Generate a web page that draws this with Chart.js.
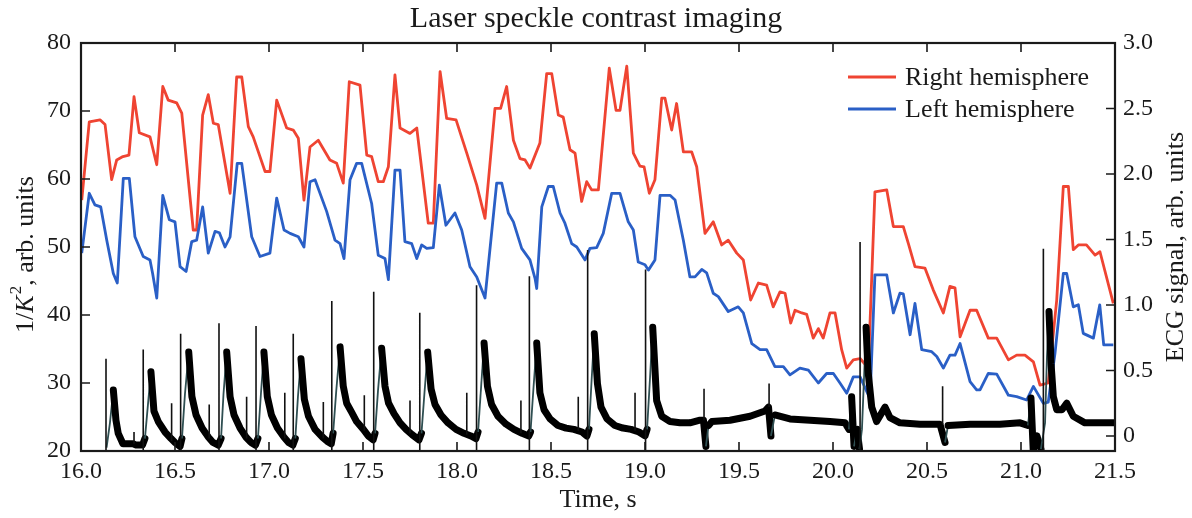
<!DOCTYPE html>
<html>
<head>
<meta charset="utf-8">
<script src="https://cdn.jsdelivr.net/npm/chart.js@4.4.1/dist/chart.umd.min.js"></script>
<style>
html,body{margin:0;padding:0;background:#fff;}
canvas{display:block;}
</style>
</head>
<body>
<canvas id="c" width="1192" height="518"></canvas>
<script>
// ---------------- DATA ----------------
const chartTitle = 'Laser speckle contrast imaging';
const xTitle = 'Time, s';
const yRightTitle = 'ECG signal, arb. units';
const xTicks = [16.0,16.5,17.0,17.5,18.0,18.5,19.0,19.5,20.0,20.5,21.0,21.5];
const yLeftTicks = [20,30,40,50,60,70,80];
const yRightTicks = [0,0.5,1.0,1.5,2.0,2.5,3.0];

const redTime = [16.004,16.044,16.101,16.128,16.163,16.190,16.223,16.255,16.282,16.310,
16.367,16.403,16.435,16.464,16.509,16.536,16.597,16.615,16.647,16.677,
16.704,16.730,16.793,16.828,16.855,16.890,16.916,16.979,17.005,17.041,
17.094,17.129,17.156,17.186,17.218,17.262,17.324,17.360,17.395,17.427,
17.484,17.520,17.546,17.581,17.608,17.635,17.670,17.697,17.750,17.786,
17.847,17.874,17.910,17.945,17.995,18.052,18.105,18.149,18.202,18.232,
18.264,18.300,18.335,18.362,18.388,18.441,18.477,18.504,18.539,18.565,
18.601,18.628,18.663,18.690,18.716,18.752,18.810,18.846,18.867,18.903,
18.938,18.973,18.995,19.023,19.053,19.089,19.106,19.142,19.168,19.204,
19.248,19.275,19.319,19.363,19.408,19.443,19.488,19.523,19.562,19.603,
19.647,19.682,19.718,19.745,19.775,19.798,19.834,19.860,19.895,19.922,
19.948,19.984,20.011,20.046,20.073,20.108,20.144,20.188,20.223,20.286,
20.321,20.374,20.401,20.436,20.489,20.533,20.587,20.622,20.649,20.676,
20.729,20.764,20.826,20.871,20.933,20.977,21.021,21.066,21.101,21.145,
21.190,21.225,21.252,21.278,21.305,21.348,21.394,21.420,21.491];
const redValue = [56.9,68.4,68.7,68.0,59.9,62.8,63.3,63.5,72.1,66.8,
66.2,62.1,73.6,71.6,71.2,69.7,52.5,52.5,69.4,72.4,
68.2,68.0,57.9,75.0,75.0,67.7,66.2,61.1,61.1,71.6,
67.5,67.2,66.0,56.9,64.7,65.7,62.8,62.3,59.4,74.3,
73.8,63.5,63.3,59.6,59.6,61.8,75.3,67.5,66.7,67.5,
53.5,53.5,75.8,68.9,68.7,63.8,59.1,54.2,70.4,70.4,
73.6,65.7,63.0,62.8,61.6,65.3,75.5,75.5,69.4,69.1,
64.3,63.8,56.7,59.6,58.4,58.4,76.3,70.1,70.1,76.6,
63.8,61.9,61.8,57.9,59.9,71.9,71.9,67.2,71.1,64.0,
64.0,61.8,52.0,53.7,50.3,51.0,49.1,48.1,42.2,44.7,
44.4,41.2,43.4,43.2,38.8,40.7,40.3,40.1,36.6,38.0,
36.6,40.3,40.3,34.9,32.2,33.4,33.6,32.2,58.1,58.4,
53.0,53.0,50.5,47.1,46.9,43.7,40.3,44.2,44.0,36.8,
40.7,40.7,36.6,36.6,33.4,34.1,34.1,33.1,29.7,30.0,
42.2,58.9,58.9,49.6,50.3,50.3,48.8,49.3,41.7];

const blueTime = [16.004,16.044,16.074,16.105,16.137,16.172,16.193,16.225,16.257,16.287,
16.331,16.367,16.381,16.403,16.435,16.470,16.500,16.527,16.559,16.589,
16.615,16.647,16.677,16.713,16.736,16.766,16.793,16.831,16.855,16.908,
16.952,17.005,17.041,17.080,17.112,17.156,17.186,17.218,17.245,17.307,
17.351,17.378,17.399,17.431,17.466,17.493,17.546,17.581,17.617,17.635,
17.670,17.697,17.723,17.759,17.786,17.812,17.839,17.874,17.906,17.941,
17.989,18.025,18.069,18.105,18.149,18.211,18.238,18.273,18.300,18.344,
18.388,18.415,18.424,18.451,18.486,18.512,18.548,18.574,18.610,18.637,
18.681,18.707,18.743,18.778,18.823,18.867,18.911,18.938,18.964,19.000,
19.018,19.053,19.080,19.133,19.160,19.204,19.239,19.266,19.302,19.328,
19.363,19.390,19.443,19.496,19.523,19.568,19.612,19.647,19.691,19.736,
19.771,19.824,19.869,19.922,19.966,20.002,20.037,20.073,20.108,20.144,
20.197,20.223,20.286,20.321,20.356,20.374,20.410,20.436,20.472,20.525,
20.552,20.587,20.622,20.649,20.676,20.729,20.764,20.782,20.826,20.871,
20.933,20.977,21.030,21.066,21.119,21.145,21.181,21.225,21.243,21.278,
21.305,21.331,21.385,21.419,21.440,21.491];
const blueValue = [49.1,57.9,56.2,55.9,51.0,46.1,44.7,60.1,60.1,51.5,
48.6,48.1,46.1,42.5,57.6,54.0,53.7,47.1,46.4,50.8,
51.0,55.9,49.1,52.3,52.1,50.0,51.5,62.3,62.3,51.5,
48.6,49.1,57.2,52.5,52.0,51.5,50.0,59.6,59.9,55.2,
51.0,50.5,48.3,59.9,62.3,62.3,56.4,48.8,48.3,45.2,
61.3,61.3,50.8,50.5,48.3,50.3,49.8,49.9,59.1,53.2,
55.0,52.5,47.1,45.6,42.5,59.4,59.4,55.0,53.7,49.8,
48.1,45.4,43.9,55.9,58.9,58.9,55.0,53.5,50.5,50.0,
48.1,49.8,49.9,52.0,57.9,57.9,53.7,52.5,47.8,47.4,
46.6,48.1,57.6,57.6,56.9,51.0,45.6,45.6,46.7,46.2,
43.2,42.7,40.5,41.2,40.3,35.8,34.9,34.9,32.4,32.4,
31.2,32.2,31.9,30.0,31.4,31.4,30.0,28.5,30.9,30.9,
27.7,45.9,45.9,40.3,43.2,43.1,37.1,41.7,34.9,34.6,
33.9,32.2,34.1,34.1,35.8,30.2,29.0,29.0,31.4,31.3,
28.2,28.0,27.5,29.5,27.0,27.2,34.4,46.1,46.1,41.2,
41.5,37.3,36.6,41.5,35.6,35.6];

// ECG trace (right axis), main band
const ecgTime = [16.136,16.154,16.172,16.186,16.198,16.223,16.277,16.293,16.327,
16.340,16.358,16.372,16.388,16.411,16.447,16.479,16.500,16.527,
16.537,16.553,16.573,16.590,16.612,16.644,16.678,16.702,16.730,
16.745,16.758,16.775,16.793,16.814,16.846,16.878,16.904,16.928,
16.941,16.957,16.973,16.991,17.013,17.045,17.080,17.104,17.127,
17.140,17.154,17.170,17.188,17.210,17.245,17.285,17.309,17.331,
17.341,17.358,17.378,17.395,17.413,17.440,17.466,17.502,17.528,17.554,
17.564,17.580,17.599,17.617,17.636,17.665,17.697,17.729,17.761,17.798,
17.811,17.827,17.844,17.862,17.883,17.915,17.952,17.995,18.037,18.074,18.101,
18.112,18.128,18.144,18.162,18.184,18.218,18.261,18.303,18.346,18.382,
18.391,18.407,18.424,18.441,18.463,18.495,18.537,18.580,18.622,18.665,18.691,
18.702,18.715,18.730,18.747,18.766,18.798,18.840,18.883,18.926,18.968,19.000,
19.011,19.027,19.041,19.062,19.089,19.133,19.186,19.239,19.292,19.311,
19.324,19.338,19.356,19.452,19.559,19.638,19.657,19.670,19.691,19.771,
19.878,19.984,20.064,20.085,20.099,20.112,20.128,20.141,20.154,20.168,
20.176,20.186,20.206,20.232,20.277,20.303,20.356,20.463,20.569,20.596,
20.612,20.729,20.888,20.995,21.037,21.053,21.065,21.085,21.106,21.128,
21.138,21.149,21.160,21.172,21.190,21.218,21.243,21.278,21.340,21.420,21.500];
const ecgValue = [-0.09,0.10,0.35,0.12,0.02,-0.06,-0.06,-0.07,-0.07,
-0.02,0.27,0.49,0.19,0.11,0.03,-0.02,-0.05,-0.08,
-0.02,0.32,0.64,0.30,0.16,0.06,-0.01,-0.05,-0.07,
-0.02,0.32,0.64,0.30,0.16,0.06,-0.01,-0.05,-0.07,
-0.02,0.32,0.64,0.30,0.16,0.06,-0.01,-0.05,-0.07,
-0.02,0.30,0.59,0.28,0.15,0.05,-0.01,-0.04,-0.06,
0.02,0.35,0.68,0.38,0.25,0.18,0.11,0.05,0.00,-0.03,
0.02,0.35,0.67,0.38,0.25,0.17,0.10,0.05,0.01,-0.03,
0.02,0.33,0.64,0.36,0.24,0.16,0.10,0.05,0.02,0.00,-0.02,
0.03,0.37,0.71,0.38,0.24,0.15,0.09,0.05,0.02,0.00,
0.03,0.37,0.71,0.33,0.20,0.13,0.08,0.06,0.05,0.03,0.00,
0.05,0.40,0.78,0.40,0.22,0.13,0.08,0.06,0.05,0.03,0.00,
0.05,0.45,0.83,0.27,0.15,0.11,0.10,0.10,0.12,0.12,
-0.08,0.08,0.11,0.12,0.15,0.19,0.22,0.00,0.16,0.13,
0.12,0.11,0.10,0.05,0.30,-0.08,0.05,-0.10,0.05,0.55,
0.83,0.50,0.22,0.11,0.22,0.14,0.10,0.09,0.09,-0.05,
0.08,0.09,0.09,0.10,0.08,0.29,-0.11,0.00,-0.10,0.10,
0.60,0.95,0.55,0.30,0.20,0.20,0.25,0.15,0.10,0.10,0.10];

// ECG narrow spikes: time, base level and top level
const spikeTime = [16.133,16.331,16.530,16.734,16.931,17.129,17.334,17.557,17.802,18.104,18.385,18.695,19.003,20.144,21.119,
16.282,16.482,16.682,16.881,17.084,17.289,17.507,17.750,18.052,18.340,18.645,18.947,19.314,19.660,20.583];
const spikeBase = [-0.115,-0.115,-0.115,-0.115,-0.115,-0.115,-0.115,-0.115,-0.115,-0.115,-0.115,-0.115,-0.115,-0.115,-0.115,
-0.06,-0.04,-0.02,-0.02,-0.02,-0.02,0.04,0.02,0.01,0.02,0.04,0.04,0.12,0.22,0.09];
const spikeTop = [0.59,0.66,0.78,0.86,0.84,0.78,1.03,1.10,0.94,1.15,1.22,1.42,1.27,1.48,1.43,
0.03,0.25,0.24,0.30,0.33,0.26,0.31,0.27,0.33,0.27,0.30,0.33,0.36,0.40,0.38];

// ---------------- BUILD ----------------
const FONT = '"Liberation Serif", "Times New Roman", serif';
const INK = '#1a1a1a';
const RED = '#ef4432';
const BLUE = '#2a5fc6';
const xy = (t, v) => t.map((x, i) => ({x, y: v[i]}));
const spikeData = [];
spikeTime.forEach((t, i) => {
  spikeData.push({x: t, y: spikeBase[i]});
  spikeData.push({x: t, y: spikeTop[i]});
  spikeData.push({x: t, y: null});
});
const rising = c => (c.p1.parsed.y - c.p0.parsed.y) > 0.12;

const decorPlugin = {
  id: 'decor',
  afterDatasetsDraw(chart) {
    const {ctx, chartArea: {left, right, top, bottom}, scales: {x, y, y1}} = chart;
    ctx.save();
    ctx.strokeStyle = INK;
    ctx.lineWidth = 1.6;
    ctx.beginPath();
    xTicks.forEach(v => {
      const p = x.getPixelForValue(v);
      ctx.moveTo(p, bottom); ctx.lineTo(p, bottom - 9);
      ctx.moveTo(p, top); ctx.lineTo(p, top + 9);
    });
    yLeftTicks.forEach(v => {
      const p = y.getPixelForValue(v);
      ctx.moveTo(left, p); ctx.lineTo(left + 9, p);
    });
    yRightTicks.forEach(v => {
      const p = y1.getPixelForValue(v);
      ctx.moveTo(right, p); ctx.lineTo(right - 9, p);
    });
    ctx.stroke();
    ctx.lineWidth = 2.2;
    ctx.strokeRect(left, top, right - left, bottom - top);

    // legend
    const items = [chart.data.datasets[0], chart.data.datasets[1]];
    ctx.font = '26px ' + FONT;
    ctx.textBaseline = 'middle';
    ctx.textAlign = 'left';
    items.forEach((ds, i) => {
      const yy = 77 + i * 32;
      ctx.strokeStyle = ds.borderColor;
      ctx.lineWidth = 3;
      ctx.beginPath(); ctx.moveTo(848, yy); ctx.lineTo(896, yy); ctx.stroke();
      ctx.fillStyle = INK;
      ctx.fillText(ds.label, 905, yy + 1);
    });

    // x title
    ctx.textAlign = 'center';
    ctx.fillText(xTitle, (left + right) / 2, 500);

    // right title
    ctx.save();
    ctx.translate(1176, (top + bottom) / 2);
    ctx.rotate(-Math.PI / 2);
    ctx.textAlign = 'center';
    ctx.fillText(yRightTitle, 0, 0);
    ctx.restore();

    // left title: 1/K², arb. units  (K italic, 2 superscript)
    ctx.save();
    ctx.translate(26, (top + bottom) / 2 + 8);
    ctx.rotate(-Math.PI / 2);
    const parts = [
      {t: '1/', f: '26px ' + FONT, dy: 0},
      {t: 'K', f: 'italic 26px ' + FONT, dy: 0},
      {t: '2', f: '17px ' + FONT, dy: -9},
      {t: ', arb. units', f: '26px ' + FONT, dy: 0}
    ];
    let total = 0;
    parts.forEach(p => { ctx.font = p.f; p.w = ctx.measureText(p.t).width; total += p.w; });
    let cx = -total / 2;
    ctx.textAlign = 'left';
    parts.forEach(p => { ctx.font = p.f; ctx.fillText(p.t, cx, p.dy); cx += p.w + (p.t === 'K' ? 1 : 0); });
    ctx.restore();
    ctx.restore();
  }
};

const tickFont = {family: FONT, size: 24};
const TITLE_SIZE = 30;

new Chart(document.getElementById('c'), {
  type: 'line',
  data: {
    datasets: [
      {label: 'Right hemisphere', data: xy(redTime, redValue), borderColor: RED, borderWidth: 2.8,
       pointRadius: 0, yAxisID: 'y', tension: 0, order: 3, borderJoinStyle: 'round'},
      {label: 'Left hemisphere', data: xy(blueTime, blueValue), borderColor: BLUE, borderWidth: 2.8,
       pointRadius: 0, yAxisID: 'y', tension: 0, order: 2, borderJoinStyle: 'round'},
      {label: 'ECG', data: xy(ecgTime, ecgValue), borderColor: '#000', borderWidth: 7,
       pointRadius: 0, yAxisID: 'y1', tension: 0, order: 1,
       borderJoinStyle: 'round', borderCapStyle: 'round',
       segment: {
         borderWidth: c => rising(c) ? 1.8 : 7,
         borderColor: c => rising(c) ? '#2f4f52' : '#000',
         borderCapStyle: c => rising(c) ? 'butt' : 'round'
       }},
      {label: 'ECG spikes', data: spikeData, borderColor: '#111', borderWidth: 1.6,
       pointRadius: 0, yAxisID: 'y1', spanGaps: false, order: 0}
    ]
  },
  options: {
    responsive: false,
    animation: false,
    events: [],
    layout: {padding: 0},
    plugins: {
      legend: {display: false},
      tooltip: {enabled: false},
      title: {
        display: true, text: chartTitle, color: INK,
        font: {family: FONT, size: TITLE_SIZE, weight: 'normal', lineHeight: 1.2},
        padding: {top: 1, bottom: 43 - 1 - TITLE_SIZE * 1.2}
      }
    },
    scales: {
      x: {
        type: 'linear', min: 16, max: 21.5,
        afterBuildTicks: s => { s.ticks = xTicks.map(v => ({value: v})); },
        ticks: {font: tickFont, color: INK, padding: 6, maxRotation: 0, autoSkip: false,
                callback: v => Number(v).toFixed(1)},
        grid: {display: false, drawTicks: false},
        border: {display: false},
        afterFit: s => { s.height = 67; }
      },
      y: {
        position: 'left', min: 20, max: 80,
        afterBuildTicks: s => { s.ticks = yLeftTicks.map(v => ({value: v})); },
        ticks: {font: tickFont, color: INK, padding: 10},
        grid: {display: false, drawTicks: false},
        border: {display: false},
        afterFit: s => { s.width = 81; }
      },
      y1: {
        position: 'right', min: -0.115, max: 3.0,
        afterBuildTicks: s => { s.ticks = yRightTicks.map(v => ({value: v})); },
        ticks: {font: tickFont, color: INK, padding: 8,
                callback: v => v === 0 ? '0' : Number(v).toFixed(1)},
        grid: {display: false, drawTicks: false},
        border: {display: false},
        afterFit: s => { s.width = 77; }
      }
    }
  },
  plugins: [decorPlugin]
});
</script>
</body>
</html>
